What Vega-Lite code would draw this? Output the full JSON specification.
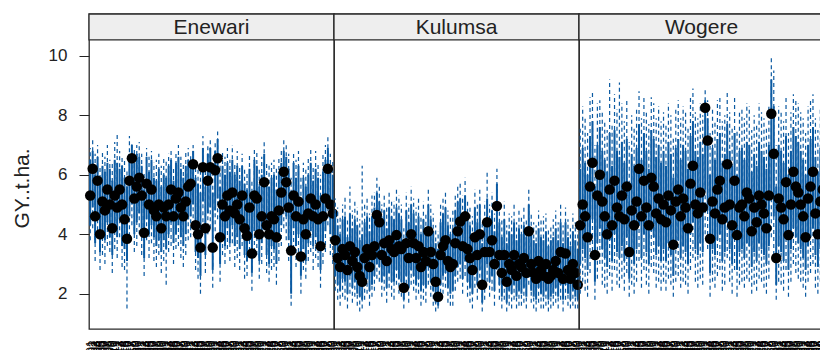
{
"$schema": "https://vega.github.io/schema/vega-lite/v6.json",
"padding": {"left": 11, "top": 12, "right": 0, "bottom": 0},
"background": "white",
"bounds": "flush",
"config": {"view": {"stroke": "#2a2a2a", "strokeWidth": 1.3}, "font": "Liberation Sans", "axisX": {"labelOverlap": false, "labelBound": false}},
"data": {"values": [
{"s":"Enewari","i":1,"m":5.3,"lo":4.3,"hi":6.5,"lo2":3.8,"hi2":6.9},
{"s":"Enewari","i":2,"m":6.2,"lo":4.9,"hi":6.8,"lo2":4.2,"hi2":7.2},
{"s":"Enewari","i":3,"m":4.6,"lo":3.7,"hi":6.0,"lo2":3.1,"hi2":6.7},
{"s":"Enewari","i":4,"m":5.8,"lo":4.7,"hi":6.6,"lo2":3.9,"hi2":7.0},
{"s":"Enewari","i":5,"m":4.0,"lo":3.4,"hi":5.7,"lo2":2.8,"hi2":6.3},
{"s":"Enewari","i":6,"m":5.1,"lo":4.1,"hi":6.3,"lo2":3.3,"hi2":6.8},
{"s":"Enewari","i":7,"m":4.8,"lo":3.8,"hi":6.1,"lo2":3.0,"hi2":6.6},
{"s":"Enewari","i":8,"m":5.5,"lo":4.4,"hi":6.4,"lo2":3.6,"hi2":7.0},
{"s":"Enewari","i":9,"m":5.0,"lo":3.9,"hi":6.2,"lo2":3.4,"hi2":6.5},
{"s":"Enewari","i":10,"m":4.2,"lo":3.3,"hi":5.8,"lo2":2.7,"hi2":6.4},
{"s":"Enewari","i":11,"m":5.3,"lo":4.2,"hi":6.5,"lo2":3.5,"hi2":7.1},
{"s":"Enewari","i":12,"m":4.9,"lo":3.9,"hi":6.4,"lo2":3.2,"hi2":7.35},
{"s":"Enewari","i":13,"m":5.5,"lo":4.5,"hi":6.2,"lo2":3.9,"hi2":6.8},
{"s":"Enewari","i":14,"m":5.0,"lo":3.6,"hi":6.3,"lo2":2.9,"hi2":6.6},
{"s":"Enewari","i":15,"m":4.5,"lo":3.5,"hi":5.9,"lo2":2.8,"hi2":6.5},
{"s":"Enewari","i":16,"m":3.85,"lo":3.1,"hi":5.6,"lo2":1.5,"hi2":6.2},
{"s":"Enewari","i":17,"m":5.8,"lo":4.6,"hi":6.7,"lo2":3.7,"hi2":7.3},
{"s":"Enewari","i":18,"m":6.55,"lo":5.0,"hi":7.0,"lo2":4.3,"hi2":7.1},
{"s":"Enewari","i":19,"m":5.2,"lo":4.0,"hi":6.4,"lo2":3.4,"hi2":6.9},
{"s":"Enewari","i":20,"m":5.6,"lo":4.4,"hi":6.7,"lo2":3.6,"hi2":7.0},
{"s":"Enewari","i":21,"m":5.9,"lo":4.7,"hi":6.6,"lo2":4.0,"hi2":7.1},
{"s":"Enewari","i":22,"m":5.3,"lo":4.1,"hi":6.3,"lo2":3.3,"hi2":6.7},
{"s":"Enewari","i":23,"m":4.05,"lo":3.2,"hi":5.5,"lo2":2.6,"hi2":6.1},
{"s":"Enewari","i":24,"m":5.7,"lo":4.5,"hi":6.6,"lo2":3.8,"hi2":6.9},
{"s":"Enewari","i":25,"m":5.0,"lo":4.0,"hi":6.1,"lo2":3.2,"hi2":6.6},
{"s":"Enewari","i":26,"m":5.5,"lo":4.3,"hi":6.5,"lo2":3.7,"hi2":6.8},
{"s":"Enewari","i":27,"m":4.8,"lo":3.9,"hi":5.9,"lo2":3.1,"hi2":6.4},
{"s":"Enewari","i":28,"m":4.6,"lo":3.6,"hi":5.8,"lo2":2.9,"hi2":6.5},
{"s":"Enewari","i":29,"m":5.0,"lo":3.8,"hi":6.2,"lo2":3.3,"hi2":6.7},
{"s":"Enewari","i":30,"m":4.2,"lo":3.4,"hi":5.6,"lo2":2.7,"hi2":6.3},
{"s":"Enewari","i":31,"m":4.9,"lo":3.8,"hi":6.0,"lo2":3.1,"hi2":6.6},
{"s":"Enewari","i":32,"m":4.6,"lo":3.5,"hi":5.9,"lo2":2.3,"hi2":6.5},
{"s":"Enewari","i":33,"m":5.0,"lo":4.0,"hi":6.3,"lo2":3.4,"hi2":6.7},
{"s":"Enewari","i":34,"m":5.5,"lo":4.4,"hi":6.5,"lo2":3.6,"hi2":6.9},
{"s":"Enewari","i":35,"m":4.6,"lo":3.7,"hi":5.8,"lo2":3.0,"hi2":6.2},
{"s":"Enewari","i":36,"m":5.2,"lo":4.0,"hi":6.4,"lo2":3.5,"hi2":6.7},
{"s":"Enewari","i":37,"m":5.4,"lo":4.3,"hi":6.6,"lo2":3.6,"hi2":7.0},
{"s":"Enewari","i":38,"m":4.9,"lo":3.9,"hi":6.2,"lo2":3.2,"hi2":6.6},
{"s":"Enewari","i":39,"m":4.6,"lo":3.6,"hi":5.9,"lo2":2.9,"hi2":6.4},
{"s":"Enewari","i":40,"m":5.1,"lo":4.0,"hi":6.3,"lo2":3.3,"hi2":6.8},
{"s":"Enewari","i":41,"m":5.6,"lo":4.5,"hi":6.5,"lo2":3.8,"hi2":6.9},
{"s":"Enewari","i":42,"m":5.7,"lo":4.6,"hi":6.4,"lo2":3.9,"hi2":6.7},
{"s":"Enewari","i":43,"m":6.35,"lo":5.0,"hi":6.8,"lo2":4.3,"hi2":7.0},
{"s":"Enewari","i":44,"m":4.3,"lo":3.4,"hi":5.9,"lo2":2.8,"hi2":6.5},
{"s":"Enewari","i":45,"m":4.0,"lo":3.2,"hi":5.7,"lo2":2.5,"hi2":6.3},
{"s":"Enewari","i":46,"m":3.55,"lo":2.6,"hi":5.4,"lo2":2.0,"hi2":6.1},
{"s":"Enewari","i":47,"m":6.25,"lo":5.1,"hi":6.9,"lo2":4.4,"hi2":7.3},
{"s":"Enewari","i":48,"m":4.2,"lo":3.3,"hi":5.6,"lo2":2.7,"hi2":6.2},
{"s":"Enewari","i":49,"m":5.8,"lo":4.7,"hi":6.7,"lo2":4.0,"hi2":7.0},
{"s":"Enewari","i":50,"m":6.25,"lo":4.9,"hi":6.9,"lo2":4.2,"hi2":7.2},
{"s":"Enewari","i":51,"m":3.55,"lo":2.8,"hi":5.4,"lo2":2.2,"hi2":6.0},
{"s":"Enewari","i":52,"m":6.15,"lo":4.8,"hi":6.8,"lo2":4.1,"hi2":7.1},
{"s":"Enewari","i":53,"m":6.55,"lo":5.2,"hi":7.2,"lo2":4.5,"hi2":7.45},
{"s":"Enewari","i":54,"m":3.9,"lo":3.0,"hi":5.6,"lo2":2.4,"hi2":6.4},
{"s":"Enewari","i":55,"m":5.0,"lo":4.0,"hi":6.3,"lo2":3.3,"hi2":6.8},
{"s":"Enewari","i":56,"m":4.6,"lo":3.6,"hi":6.0,"lo2":3.0,"hi2":6.6},
{"s":"Enewari","i":57,"m":5.3,"lo":4.2,"hi":6.4,"lo2":3.5,"hi2":6.9},
{"s":"Enewari","i":58,"m":4.8,"lo":3.7,"hi":6.1,"lo2":3.1,"hi2":6.5},
{"s":"Enewari","i":59,"m":5.4,"lo":4.3,"hi":6.5,"lo2":3.7,"hi2":7.0},
{"s":"Enewari","i":60,"m":4.7,"lo":3.6,"hi":6.0,"lo2":2.9,"hi2":6.4},
{"s":"Enewari","i":61,"m":5.0,"lo":3.9,"hi":6.3,"lo2":3.2,"hi2":6.8},
{"s":"Enewari","i":62,"m":4.5,"lo":3.5,"hi":5.8,"lo2":2.8,"hi2":6.3},
{"s":"Enewari","i":63,"m":5.3,"lo":4.2,"hi":6.3,"lo2":3.6,"hi2":6.7},
{"s":"Enewari","i":64,"m":4.2,"lo":3.3,"hi":5.7,"lo2":2.5,"hi2":6.2},
{"s":"Enewari","i":65,"m":3.95,"lo":3.1,"hi":5.5,"lo2":2.6,"hi2":6.1},
{"s":"Enewari","i":66,"m":4.9,"lo":3.8,"hi":6.2,"lo2":3.2,"hi2":6.7},
{"s":"Enewari","i":67,"m":3.35,"lo":2.7,"hi":5.2,"lo2":2.1,"hi2":5.8},
{"s":"Enewari","i":68,"m":5.3,"lo":4.1,"hi":6.5,"lo2":3.4,"hi2":6.9},
{"s":"Enewari","i":69,"m":5.2,"lo":4.0,"hi":6.3,"lo2":3.3,"hi2":6.8},
{"s":"Enewari","i":70,"m":4.0,"lo":3.1,"hi":5.6,"lo2":2.5,"hi2":6.2},
{"s":"Enewari","i":71,"m":4.6,"lo":3.7,"hi":6.0,"lo2":3.0,"hi2":6.6},
{"s":"Enewari","i":72,"m":5.75,"lo":4.6,"hi":6.7,"lo2":3.9,"hi2":7.1},
{"s":"Enewari","i":73,"m":4.3,"lo":3.3,"hi":5.8,"lo2":2.7,"hi2":6.4},
{"s":"Enewari","i":74,"m":4.0,"lo":3.0,"hi":5.6,"lo2":2.4,"hi2":6.3},
{"s":"Enewari","i":75,"m":4.6,"lo":3.6,"hi":5.9,"lo2":2.8,"hi2":6.4},
{"s":"Enewari","i":76,"m":4.5,"lo":3.5,"hi":6.0,"lo2":2.9,"hi2":6.5},
{"s":"Enewari","i":77,"m":3.9,"lo":3.0,"hi":5.5,"lo2":2.3,"hi2":6.2},
{"s":"Enewari","i":78,"m":4.8,"lo":3.8,"hi":6.1,"lo2":3.1,"hi2":6.6},
{"s":"Enewari","i":79,"m":5.4,"lo":4.3,"hi":6.4,"lo2":3.6,"hi2":6.9},
{"s":"Enewari","i":80,"m":6.1,"lo":4.9,"hi":6.8,"lo2":4.2,"hi2":7.2},
{"s":"Enewari","i":81,"m":5.75,"lo":4.6,"hi":6.6,"lo2":3.8,"hi2":7.0},
{"s":"Enewari","i":82,"m":4.9,"lo":3.8,"hi":6.2,"lo2":3.1,"hi2":6.7},
{"s":"Enewari","i":83,"m":3.45,"lo":2.0,"hi":5.3,"lo2":1.6,"hi2":5.9},
{"s":"Enewari","i":84,"m":5.3,"lo":4.2,"hi":6.4,"lo2":3.5,"hi2":6.8},
{"s":"Enewari","i":85,"m":4.6,"lo":3.6,"hi":5.9,"lo2":2.9,"hi2":6.5},
{"s":"Enewari","i":86,"m":5.1,"lo":4.0,"hi":6.3,"lo2":3.4,"hi2":6.8},
{"s":"Enewari","i":87,"m":3.25,"lo":2.6,"hi":5.1,"lo2":2.0,"hi2":5.9},
{"s":"Enewari","i":88,"m":4.5,"lo":3.5,"hi":5.9,"lo2":2.8,"hi2":6.4},
{"s":"Enewari","i":89,"m":4.0,"lo":3.1,"hi":5.6,"lo2":2.5,"hi2":6.2},
{"s":"Enewari","i":90,"m":4.7,"lo":3.7,"hi":6.0,"lo2":3.1,"hi2":6.6},
{"s":"Enewari","i":91,"m":5.2,"lo":4.1,"hi":6.4,"lo2":3.4,"hi2":6.9},
{"s":"Enewari","i":92,"m":4.6,"lo":3.6,"hi":5.8,"lo2":2.8,"hi2":6.3},
{"s":"Enewari","i":93,"m":5.0,"lo":3.9,"hi":6.2,"lo2":3.2,"hi2":6.8},
{"s":"Enewari","i":94,"m":4.5,"lo":3.5,"hi":5.9,"lo2":2.9,"hi2":6.4},
{"s":"Enewari","i":95,"m":3.6,"lo":2.8,"hi":5.3,"lo2":2.2,"hi2":6.0},
{"s":"Enewari","i":96,"m":4.6,"lo":3.7,"hi":6.1,"lo2":3.0,"hi2":6.7},
{"s":"Enewari","i":97,"m":5.2,"lo":4.1,"hi":6.5,"lo2":3.4,"hi2":7.0},
{"s":"Enewari","i":98,"m":6.2,"lo":5.0,"hi":6.9,"lo2":4.3,"hi2":7.3},
{"s":"Enewari","i":99,"m":5.0,"lo":4.0,"hi":6.2,"lo2":3.3,"hi2":6.7},
{"s":"Enewari","i":100,"m":4.7,"lo":3.7,"hi":6.0,"lo2":3.0,"hi2":6.5},
{"s":"Kulumsa","i":1,"m":3.8,"lo":2.6,"hi":4.7,"lo2":2.1,"hi2":5.2},
{"s":"Kulumsa","i":2,"m":3.2,"lo":2.3,"hi":4.3,"lo2":1.8,"hi2":4.9},
{"s":"Kulumsa","i":3,"m":2.9,"lo":2.1,"hi":4.0,"lo2":1.6,"hi2":4.6},
{"s":"Kulumsa","i":4,"m":3.5,"lo":2.5,"hi":4.5,"lo2":1.9,"hi2":5.0},
{"s":"Kulumsa","i":5,"m":3.3,"lo":2.4,"hi":4.6,"lo2":1.8,"hi2":5.3},
{"s":"Kulumsa","i":6,"m":2.8,"lo":2.0,"hi":3.9,"lo2":1.5,"hi2":4.5},
{"s":"Kulumsa","i":7,"m":3.6,"lo":2.6,"hi":4.7,"lo2":2.0,"hi2":5.6},
{"s":"Kulumsa","i":8,"m":3.1,"lo":2.2,"hi":4.2,"lo2":1.7,"hi2":4.8},
{"s":"Kulumsa","i":9,"m":3.4,"lo":2.4,"hi":4.5,"lo2":1.9,"hi2":5.1},
{"s":"Kulumsa","i":10,"m":2.9,"lo":2.0,"hi":4.3,"lo2":1.6,"hi2":4.9},
{"s":"Kulumsa","i":11,"m":2.6,"lo":1.9,"hi":3.8,"lo2":1.4,"hi2":4.5},
{"s":"Kulumsa","i":12,"m":2.4,"lo":1.8,"hi":4.0,"lo2":1.5,"hi2":6.3},
{"s":"Kulumsa","i":13,"m":3.2,"lo":2.3,"hi":4.4,"lo2":1.8,"hi2":5.0},
{"s":"Kulumsa","i":14,"m":3.5,"lo":2.5,"hi":4.6,"lo2":2.0,"hi2":5.2},
{"s":"Kulumsa","i":15,"m":2.9,"lo":2.1,"hi":4.1,"lo2":1.6,"hi2":4.7},
{"s":"Kulumsa","i":16,"m":3.3,"lo":2.3,"hi":4.6,"lo2":1.9,"hi2":5.3},
{"s":"Kulumsa","i":17,"m":3.6,"lo":2.6,"hi":4.9,"lo2":2.1,"hi2":5.4},
{"s":"Kulumsa","i":18,"m":4.65,"lo":3.0,"hi":5.4,"lo2":2.5,"hi2":5.9},
{"s":"Kulumsa","i":19,"m":4.4,"lo":2.9,"hi":5.1,"lo2":2.4,"hi2":5.7},
{"s":"Kulumsa","i":20,"m":3.3,"lo":2.4,"hi":4.4,"lo2":1.9,"hi2":5.0},
{"s":"Kulumsa","i":21,"m":3.7,"lo":2.6,"hi":4.8,"lo2":2.1,"hi2":5.3},
{"s":"Kulumsa","i":22,"m":3.1,"lo":2.2,"hi":4.2,"lo2":1.7,"hi2":4.9},
{"s":"Kulumsa","i":23,"m":3.8,"lo":2.7,"hi":4.9,"lo2":2.2,"hi2":5.4},
{"s":"Kulumsa","i":24,"m":3.5,"lo":2.4,"hi":4.6,"lo2":1.9,"hi2":5.1},
{"s":"Kulumsa","i":25,"m":3.4,"lo":2.4,"hi":4.5,"lo2":1.8,"hi2":5.1},
{"s":"Kulumsa","i":26,"m":3.97,"lo":2.8,"hi":4.9,"lo2":2.3,"hi2":5.5},
{"s":"Kulumsa","i":27,"m":3.6,"lo":2.5,"hi":4.7,"lo2":2.0,"hi2":5.3},
{"s":"Kulumsa","i":28,"m":3.5,"lo":2.4,"hi":4.5,"lo2":1.9,"hi2":5.0},
{"s":"Kulumsa","i":29,"m":2.2,"lo":1.8,"hi":3.6,"lo2":1.5,"hi2":4.2},
{"s":"Kulumsa","i":30,"m":3.7,"lo":2.6,"hi":4.8,"lo2":2.1,"hi2":5.4},
{"s":"Kulumsa","i":31,"m":3.2,"lo":2.2,"hi":4.4,"lo2":1.7,"hi2":5.0},
{"s":"Kulumsa","i":32,"m":4.0,"lo":2.8,"hi":5.0,"lo2":2.3,"hi2":5.6},
{"s":"Kulumsa","i":33,"m":3.7,"lo":2.6,"hi":4.7,"lo2":2.1,"hi2":5.2},
{"s":"Kulumsa","i":34,"m":3.2,"lo":2.3,"hi":4.3,"lo2":1.8,"hi2":4.9},
{"s":"Kulumsa","i":35,"m":3.6,"lo":2.5,"hi":4.6,"lo2":2.0,"hi2":5.2},
{"s":"Kulumsa","i":36,"m":2.9,"lo":2.1,"hi":4.0,"lo2":1.6,"hi2":4.6},
{"s":"Kulumsa","i":37,"m":3.4,"lo":2.3,"hi":4.5,"lo2":1.8,"hi2":5.1},
{"s":"Kulumsa","i":38,"m":3.1,"lo":2.2,"hi":4.2,"lo2":1.7,"hi2":4.7},
{"s":"Kulumsa","i":39,"m":4.1,"lo":2.9,"hi":5.0,"lo2":2.3,"hi2":5.5},
{"s":"Kulumsa","i":40,"m":3.4,"lo":2.4,"hi":4.5,"lo2":1.9,"hi2":5.0},
{"s":"Kulumsa","i":41,"m":3.0,"lo":2.1,"hi":4.1,"lo2":1.6,"hi2":4.7},
{"s":"Kulumsa","i":42,"m":2.4,"lo":1.7,"hi":3.7,"lo2":1.4,"hi2":4.3},
{"s":"Kulumsa","i":43,"m":1.9,"lo":1.6,"hi":3.5,"lo2":1.5,"hi2":4.1},
{"s":"Kulumsa","i":44,"m":3.3,"lo":2.3,"hi":4.4,"lo2":1.8,"hi2":5.0},
{"s":"Kulumsa","i":45,"m":3.6,"lo":2.6,"hi":4.7,"lo2":2.0,"hi2":5.2},
{"s":"Kulumsa","i":46,"m":3.8,"lo":2.7,"hi":4.9,"lo2":2.2,"hi2":5.4},
{"s":"Kulumsa","i":47,"m":3.1,"lo":2.2,"hi":4.3,"lo2":1.7,"hi2":4.8},
{"s":"Kulumsa","i":48,"m":2.9,"lo":2.0,"hi":4.0,"lo2":1.6,"hi2":4.6},
{"s":"Kulumsa","i":49,"m":3.0,"lo":2.1,"hi":4.2,"lo2":1.6,"hi2":4.8},
{"s":"Kulumsa","i":50,"m":3.7,"lo":2.6,"hi":4.8,"lo2":2.1,"hi2":5.3},
{"s":"Kulumsa","i":51,"m":4.1,"lo":2.9,"hi":5.1,"lo2":2.4,"hi2":5.7},
{"s":"Kulumsa","i":52,"m":4.43,"lo":3.0,"hi":5.2,"lo2":2.5,"hi2":5.8},
{"s":"Kulumsa","i":53,"m":3.6,"lo":2.5,"hi":4.7,"lo2":2.0,"hi2":5.3},
{"s":"Kulumsa","i":54,"m":4.6,"lo":3.1,"hi":5.3,"lo2":2.6,"hi2":5.9},
{"s":"Kulumsa","i":55,"m":3.5,"lo":2.4,"hi":4.6,"lo2":1.9,"hi2":5.1},
{"s":"Kulumsa","i":56,"m":3.2,"lo":2.2,"hi":4.3,"lo2":1.7,"hi2":4.9},
{"s":"Kulumsa","i":57,"m":2.8,"lo":2.0,"hi":4.0,"lo2":1.5,"hi2":4.6},
{"s":"Kulumsa","i":58,"m":3.9,"lo":2.7,"hi":4.9,"lo2":2.2,"hi2":5.5},
{"s":"Kulumsa","i":59,"m":3.3,"lo":2.3,"hi":4.4,"lo2":1.8,"hi2":5.0},
{"s":"Kulumsa","i":60,"m":4.0,"lo":2.8,"hi":5.0,"lo2":2.3,"hi2":5.5},
{"s":"Kulumsa","i":61,"m":2.3,"lo":1.7,"hi":3.7,"lo2":1.4,"hi2":4.4},
{"s":"Kulumsa","i":62,"m":3.4,"lo":2.3,"hi":4.5,"lo2":1.8,"hi2":5.1},
{"s":"Kulumsa","i":63,"m":4.4,"lo":3.0,"hi":5.2,"lo2":2.4,"hi2":6.1},
{"s":"Kulumsa","i":64,"m":3.4,"lo":2.4,"hi":4.5,"lo2":1.9,"hi2":5.0},
{"s":"Kulumsa","i":65,"m":3.8,"lo":2.6,"hi":4.8,"lo2":2.1,"hi2":5.4},
{"s":"Kulumsa","i":66,"m":3.0,"lo":2.1,"hi":4.1,"lo2":1.6,"hi2":4.7},
{"s":"Kulumsa","i":67,"m":4.95,"lo":3.3,"hi":5.7,"lo2":2.8,"hi2":6.2},
{"s":"Kulumsa","i":68,"m":3.3,"lo":2.3,"hi":4.4,"lo2":1.8,"hi2":5.0},
{"s":"Kulumsa","i":69,"m":2.7,"lo":1.9,"hi":3.9,"lo2":1.5,"hi2":4.5},
{"s":"Kulumsa","i":70,"m":3.3,"lo":2.3,"hi":4.5,"lo2":1.8,"hi2":5.1},
{"s":"Kulumsa","i":71,"m":2.4,"lo":1.7,"hi":3.7,"lo2":1.4,"hi2":4.3},
{"s":"Kulumsa","i":72,"m":3.0,"lo":2.1,"hi":4.1,"lo2":1.6,"hi2":4.7},
{"s":"Kulumsa","i":73,"m":2.8,"lo":2.0,"hi":4.0,"lo2":1.5,"hi2":4.6},
{"s":"Kulumsa","i":74,"m":3.3,"lo":2.3,"hi":4.4,"lo2":1.8,"hi2":5.0},
{"s":"Kulumsa","i":75,"m":2.6,"lo":1.9,"hi":3.8,"lo2":1.5,"hi2":4.4},
{"s":"Kulumsa","i":76,"m":3.0,"lo":2.1,"hi":4.2,"lo2":1.6,"hi2":4.8},
{"s":"Kulumsa","i":77,"m":2.9,"lo":2.0,"hi":4.0,"lo2":1.6,"hi2":4.6},
{"s":"Kulumsa","i":78,"m":3.2,"lo":2.2,"hi":4.3,"lo2":1.7,"hi2":4.9},
{"s":"Kulumsa","i":79,"m":2.7,"lo":1.9,"hi":3.9,"lo2":1.5,"hi2":4.5},
{"s":"Kulumsa","i":80,"m":4.1,"lo":2.8,"hi":5.0,"lo2":2.3,"hi2":5.5},
{"s":"Kulumsa","i":81,"m":3.0,"lo":2.1,"hi":4.1,"lo2":1.7,"hi2":4.7},
{"s":"Kulumsa","i":82,"m":2.7,"lo":1.9,"hi":3.8,"lo2":1.5,"hi2":4.4},
{"s":"Kulumsa","i":83,"m":2.5,"lo":1.8,"hi":3.7,"lo2":1.4,"hi2":4.3},
{"s":"Kulumsa","i":84,"m":3.1,"lo":2.2,"hi":4.2,"lo2":1.7,"hi2":4.8},
{"s":"Kulumsa","i":85,"m":2.8,"lo":2.0,"hi":3.9,"lo2":1.5,"hi2":4.5},
{"s":"Kulumsa","i":86,"m":2.6,"lo":1.9,"hi":3.8,"lo2":1.5,"hi2":4.6},
{"s":"Kulumsa","i":87,"m":3.0,"lo":2.1,"hi":4.1,"lo2":1.6,"hi2":4.7},
{"s":"Kulumsa","i":88,"m":2.5,"lo":1.8,"hi":3.6,"lo2":1.4,"hi2":4.2},
{"s":"Kulumsa","i":89,"m":2.6,"lo":1.9,"hi":3.8,"lo2":1.5,"hi2":4.3},
{"s":"Kulumsa","i":90,"m":2.8,"lo":2.0,"hi":3.9,"lo2":1.6,"hi2":4.5},
{"s":"Kulumsa","i":91,"m":3.1,"lo":2.2,"hi":4.2,"lo2":1.7,"hi2":4.8},
{"s":"Kulumsa","i":92,"m":2.7,"lo":1.9,"hi":3.8,"lo2":1.5,"hi2":4.4},
{"s":"Kulumsa","i":93,"m":3.4,"lo":2.3,"hi":4.4,"lo2":1.8,"hi2":5.0},
{"s":"Kulumsa","i":94,"m":2.5,"lo":1.8,"hi":3.7,"lo2":1.4,"hi2":4.3},
{"s":"Kulumsa","i":95,"m":3.35,"lo":2.3,"hi":4.4,"lo2":1.8,"hi2":4.9},
{"s":"Kulumsa","i":96,"m":2.8,"lo":2.0,"hi":3.9,"lo2":1.6,"hi2":4.5},
{"s":"Kulumsa","i":97,"m":2.5,"lo":1.8,"hi":3.6,"lo2":1.5,"hi2":4.2},
{"s":"Kulumsa","i":98,"m":3.0,"lo":2.1,"hi":4.1,"lo2":1.6,"hi2":4.7},
{"s":"Kulumsa","i":99,"m":2.7,"lo":1.9,"hi":3.8,"lo2":1.5,"hi2":4.4},
{"s":"Kulumsa","i":100,"m":2.3,"lo":1.8,"hi":3.5,"lo2":1.5,"hi2":4.1},
{"s":"Wogere","i":1,"m":4.3,"lo":3.0,"hi":6.2,"lo2":2.0,"hi2":7.6},
{"s":"Wogere","i":2,"m":5.0,"lo":3.5,"hi":6.9,"lo2":2.4,"hi2":8.3},
{"s":"Wogere","i":3,"m":4.6,"lo":3.2,"hi":6.4,"lo2":2.1,"hi2":7.9},
{"s":"Wogere","i":4,"m":3.9,"lo":2.8,"hi":6.0,"lo2":1.9,"hi2":7.4},
{"s":"Wogere","i":5,"m":5.6,"lo":3.9,"hi":7.3,"lo2":2.7,"hi2":8.6},
{"s":"Wogere","i":6,"m":6.4,"lo":4.5,"hi":7.8,"lo2":3.2,"hi2":8.8},
{"s":"Wogere","i":7,"m":3.3,"lo":2.4,"hi":5.6,"lo2":1.8,"hi2":7.0},
{"s":"Wogere","i":8,"m":5.3,"lo":3.7,"hi":7.0,"lo2":2.5,"hi2":8.4},
{"s":"Wogere","i":9,"m":6.0,"lo":4.2,"hi":7.6,"lo2":3.0,"hi2":8.5},
{"s":"Wogere","i":10,"m":5.1,"lo":3.5,"hi":6.8,"lo2":2.3,"hi2":8.1},
{"s":"Wogere","i":11,"m":4.6,"lo":3.2,"hi":6.5,"lo2":2.2,"hi2":7.8},
{"s":"Wogere","i":12,"m":4.0,"lo":2.9,"hi":6.1,"lo2":2.0,"hi2":7.5},
{"s":"Wogere","i":13,"m":5.5,"lo":3.8,"hi":7.4,"lo2":2.6,"hi2":9.2},
{"s":"Wogere","i":14,"m":4.3,"lo":3.1,"hi":6.3,"lo2":2.1,"hi2":7.7},
{"s":"Wogere","i":15,"m":5.8,"lo":4.0,"hi":7.5,"lo2":2.8,"hi2":8.7},
{"s":"Wogere","i":16,"m":4.9,"lo":3.4,"hi":6.8,"lo2":2.3,"hi2":8.2},
{"s":"Wogere","i":17,"m":4.6,"lo":3.2,"hi":6.6,"lo2":2.2,"hi2":9.1},
{"s":"Wogere","i":18,"m":5.3,"lo":3.6,"hi":7.1,"lo2":2.5,"hi2":8.4},
{"s":"Wogere","i":19,"m":4.5,"lo":3.1,"hi":6.4,"lo2":2.1,"hi2":7.8},
{"s":"Wogere","i":20,"m":5.6,"lo":3.9,"hi":7.2,"lo2":2.7,"hi2":8.5},
{"s":"Wogere","i":21,"m":3.4,"lo":2.5,"hi":5.7,"lo2":1.9,"hi2":7.1},
{"s":"Wogere","i":22,"m":4.8,"lo":3.3,"hi":6.7,"lo2":2.3,"hi2":8.0},
{"s":"Wogere","i":23,"m":4.3,"lo":3.0,"hi":6.3,"lo2":2.0,"hi2":7.6},
{"s":"Wogere","i":24,"m":5.1,"lo":3.5,"hi":6.9,"lo2":2.4,"hi2":8.2},
{"s":"Wogere","i":25,"m":6.2,"lo":4.3,"hi":7.7,"lo2":3.1,"hi2":8.8},
{"s":"Wogere","i":26,"m":4.6,"lo":3.2,"hi":6.5,"lo2":2.2,"hi2":7.9},
{"s":"Wogere","i":27,"m":5.8,"lo":4.0,"hi":7.4,"lo2":2.8,"hi2":8.6},
{"s":"Wogere","i":28,"m":4.9,"lo":3.4,"hi":6.8,"lo2":2.3,"hi2":8.1},
{"s":"Wogere","i":29,"m":4.3,"lo":3.0,"hi":6.2,"lo2":2.0,"hi2":7.7},
{"s":"Wogere","i":30,"m":5.9,"lo":4.1,"hi":7.5,"lo2":2.9,"hi2":8.6},
{"s":"Wogere","i":31,"m":5.6,"lo":3.9,"hi":7.2,"lo2":2.7,"hi2":8.4},
{"s":"Wogere","i":32,"m":4.7,"lo":3.3,"hi":6.6,"lo2":2.2,"hi2":7.9},
{"s":"Wogere","i":33,"m":5.2,"lo":3.6,"hi":7.0,"lo2":2.4,"hi2":8.3},
{"s":"Wogere","i":34,"m":4.5,"lo":3.1,"hi":6.4,"lo2":2.1,"hi2":7.8},
{"s":"Wogere","i":35,"m":5.0,"lo":3.5,"hi":6.8,"lo2":2.4,"hi2":8.1},
{"s":"Wogere","i":36,"m":4.4,"lo":3.1,"hi":6.3,"lo2":2.1,"hi2":7.7},
{"s":"Wogere","i":37,"m":5.3,"lo":3.7,"hi":7.1,"lo2":2.5,"hi2":8.4},
{"s":"Wogere","i":38,"m":4.8,"lo":3.3,"hi":6.7,"lo2":2.3,"hi2":8.0},
{"s":"Wogere","i":39,"m":3.65,"lo":2.6,"hi":5.9,"lo2":1.9,"hi2":7.3},
{"s":"Wogere","i":40,"m":5.1,"lo":3.5,"hi":6.9,"lo2":2.4,"hi2":8.2},
{"s":"Wogere","i":41,"m":5.5,"lo":3.8,"hi":7.2,"lo2":2.6,"hi2":8.5},
{"s":"Wogere","i":42,"m":4.6,"lo":3.2,"hi":6.5,"lo2":2.2,"hi2":7.9},
{"s":"Wogere","i":43,"m":5.2,"lo":3.6,"hi":7.0,"lo2":2.4,"hi2":8.3},
{"s":"Wogere","i":44,"m":4.9,"lo":3.4,"hi":6.8,"lo2":2.3,"hi2":8.1},
{"s":"Wogere","i":45,"m":4.2,"lo":3.0,"hi":6.2,"lo2":2.0,"hi2":7.6},
{"s":"Wogere","i":46,"m":5.7,"lo":4.0,"hi":7.3,"lo2":2.8,"hi2":8.6},
{"s":"Wogere","i":47,"m":6.3,"lo":4.4,"hi":7.8,"lo2":3.2,"hi2":8.9},
{"s":"Wogere","i":48,"m":5.0,"lo":3.5,"hi":6.8,"lo2":2.4,"hi2":8.1},
{"s":"Wogere","i":49,"m":4.7,"lo":3.3,"hi":6.6,"lo2":2.2,"hi2":7.9},
{"s":"Wogere","i":50,"m":5.4,"lo":3.7,"hi":7.1,"lo2":2.5,"hi2":8.4},
{"s":"Wogere","i":51,"m":4.9,"lo":3.4,"hi":6.7,"lo2":2.3,"hi2":8.0},
{"s":"Wogere","i":52,"m":8.25,"lo":5.5,"hi":8.5,"lo2":4.0,"hi2":8.9},
{"s":"Wogere","i":53,"m":7.15,"lo":4.8,"hi":7.9,"lo2":3.5,"hi2":8.5},
{"s":"Wogere","i":54,"m":3.85,"lo":2.7,"hi":6.0,"lo2":1.9,"hi2":7.4},
{"s":"Wogere","i":55,"m":5.1,"lo":3.5,"hi":6.9,"lo2":2.4,"hi2":8.2},
{"s":"Wogere","i":56,"m":4.7,"lo":3.3,"hi":6.5,"lo2":2.2,"hi2":7.8},
{"s":"Wogere","i":57,"m":5.5,"lo":3.8,"hi":7.2,"lo2":2.6,"hi2":8.5},
{"s":"Wogere","i":58,"m":5.8,"lo":4.0,"hi":7.4,"lo2":2.8,"hi2":8.6},
{"s":"Wogere","i":59,"m":4.5,"lo":3.1,"hi":6.4,"lo2":2.1,"hi2":7.8},
{"s":"Wogere","i":60,"m":4.9,"lo":3.4,"hi":6.7,"lo2":2.3,"hi2":8.0},
{"s":"Wogere","i":61,"m":6.35,"lo":4.4,"hi":7.7,"lo2":3.2,"hi2":8.8},
{"s":"Wogere","i":62,"m":5.0,"lo":3.5,"hi":6.8,"lo2":2.4,"hi2":8.1},
{"s":"Wogere","i":63,"m":4.3,"lo":3.0,"hi":6.3,"lo2":2.0,"hi2":7.6},
{"s":"Wogere","i":64,"m":5.8,"lo":4.0,"hi":7.4,"lo2":2.8,"hi2":8.6},
{"s":"Wogere","i":65,"m":3.97,"lo":2.8,"hi":6.0,"lo2":1.9,"hi2":7.5},
{"s":"Wogere","i":66,"m":4.9,"lo":3.4,"hi":6.8,"lo2":2.3,"hi2":8.1},
{"s":"Wogere","i":67,"m":5.0,"lo":3.5,"hi":6.9,"lo2":2.4,"hi2":8.2},
{"s":"Wogere","i":68,"m":4.6,"lo":3.2,"hi":6.5,"lo2":2.2,"hi2":7.9},
{"s":"Wogere","i":69,"m":5.4,"lo":3.7,"hi":7.1,"lo2":2.5,"hi2":8.4},
{"s":"Wogere","i":70,"m":5.2,"lo":3.6,"hi":7.0,"lo2":2.4,"hi2":8.3},
{"s":"Wogere","i":71,"m":4.1,"lo":2.9,"hi":6.1,"lo2":2.0,"hi2":7.5},
{"s":"Wogere","i":72,"m":4.9,"lo":3.4,"hi":6.7,"lo2":2.3,"hi2":8.0},
{"s":"Wogere","i":73,"m":4.4,"lo":3.1,"hi":6.3,"lo2":2.1,"hi2":7.7},
{"s":"Wogere","i":74,"m":5.3,"lo":3.7,"hi":7.1,"lo2":2.5,"hi2":8.4},
{"s":"Wogere","i":75,"m":5.0,"lo":3.5,"hi":6.8,"lo2":2.4,"hi2":8.1},
{"s":"Wogere","i":76,"m":4.7,"lo":3.3,"hi":6.6,"lo2":2.2,"hi2":7.9},
{"s":"Wogere","i":77,"m":4.2,"lo":3.0,"hi":6.2,"lo2":2.0,"hi2":7.6},
{"s":"Wogere","i":78,"m":5.3,"lo":3.6,"hi":7.0,"lo2":2.5,"hi2":8.3},
{"s":"Wogere","i":79,"m":8.05,"lo":5.3,"hi":9.2,"lo2":3.9,"hi2":9.97},
{"s":"Wogere","i":80,"m":6.7,"lo":4.6,"hi":8.3,"lo2":3.3,"hi2":9.5},
{"s":"Wogere","i":81,"m":3.2,"lo":2.3,"hi":5.6,"lo2":1.8,"hi2":7.0},
{"s":"Wogere","i":82,"m":5.2,"lo":3.6,"hi":7.0,"lo2":2.4,"hi2":8.3},
{"s":"Wogere","i":83,"m":4.9,"lo":3.4,"hi":6.8,"lo2":2.3,"hi2":8.1},
{"s":"Wogere","i":84,"m":4.5,"lo":3.1,"hi":6.4,"lo2":2.1,"hi2":7.8},
{"s":"Wogere","i":85,"m":5.75,"lo":4.0,"hi":7.3,"lo2":2.8,"hi2":8.6},
{"s":"Wogere","i":86,"m":3.97,"lo":2.8,"hi":6.0,"lo2":1.9,"hi2":7.4},
{"s":"Wogere","i":87,"m":5.0,"lo":3.5,"hi":6.8,"lo2":2.4,"hi2":8.1},
{"s":"Wogere","i":88,"m":6.1,"lo":4.2,"hi":7.6,"lo2":3.0,"hi2":8.7},
{"s":"Wogere","i":89,"m":5.6,"lo":3.9,"hi":7.3,"lo2":2.7,"hi2":8.5},
{"s":"Wogere","i":90,"m":5.4,"lo":3.7,"hi":7.1,"lo2":2.5,"hi2":8.4},
{"s":"Wogere","i":91,"m":5.0,"lo":3.5,"hi":6.8,"lo2":2.4,"hi2":8.1},
{"s":"Wogere","i":92,"m":4.6,"lo":3.2,"hi":6.5,"lo2":2.2,"hi2":7.9},
{"s":"Wogere","i":93,"m":3.9,"lo":2.8,"hi":6.0,"lo2":1.9,"hi2":7.4},
{"s":"Wogere","i":94,"m":5.2,"lo":3.6,"hi":7.0,"lo2":2.4,"hi2":8.3},
{"s":"Wogere","i":95,"m":5.6,"lo":3.9,"hi":7.2,"lo2":2.7,"hi2":8.5},
{"s":"Wogere","i":96,"m":6.1,"lo":4.2,"hi":7.6,"lo2":3.0,"hi2":8.7},
{"s":"Wogere","i":97,"m":4.7,"lo":3.3,"hi":6.6,"lo2":2.2,"hi2":7.9},
{"s":"Wogere","i":98,"m":4.0,"lo":2.9,"hi":6.1,"lo2":2.0,"hi2":7.5},
{"s":"Wogere","i":99,"m":5.1,"lo":3.5,"hi":6.9,"lo2":2.4,"hi2":8.2},
{"s":"Wogere","i":100,"m":5.5,"lo":3.8,"hi":7.2,"lo2":2.6,"hi2":8.5}
]},
"facet": {"column": {"field": "s", "type": "nominal", "header": null}},
"spacing": 0,
"spec": {
"width": 245,
"height": 315,
"layer": [
{"mark": {"type": "rule", "color": "#0b5aa2", "strokeWidth": 1.2, "strokeDash": [4, 3]},
 "encoding": {
  "x": {"field": "i", "type": "quantitative", "scale": {"domain": [0.5, 100.5], "nice": false, "zero": false},
   "axis": {"values": [1,2,3,4,5,6,7,8,9,10,11,12,13,14,15,16,17,18,19,20,21,22,23,24,25,26,27,28,29,30,31,32,33,34,35,36,37,38,39,40,41,42,43,44,45,46,47,48,49,50,51,52,53,54,55,56,57,58,59,60,61,62,63,64,65,66,67,68,69,70,71,72,73,74,75,76,77,78,79,80,81,82,83,84,85,86,87,88,89,90,91,92,93,94,95,96,97,98,99,100],
    "tickCount": 200,
    "labelExpr": "'ETBW ' + (8900 + datum.value)", "labelAngle": -90, "labelFontSize": 12, "labelColor": "#000",
    "labelOverlap": false, "labelBound": false, "labelFlush": false, "ticks": false, "domain": false, "grid": false,
    "title": null, "labelPadding": 11}},
  "y": {"field": "lo2", "type": "quantitative", "scale": {"domain": [0.815, 11.4], "nice": false, "zero": false},
   "axis": {"values": [2, 4, 6, 8, 10], "domain": false, "grid": false, "tickSize": 10, "tickColor": "#222",
    "labelFontSize": 17, "labelPadding": 12, "labelColor": "#222", "title": "GY..t.ha.", "titleFontSize": 21,
    "titleFontWeight": "normal", "titleColor": "#222", "titleX": -67, "titleY": 174, "titleBaseline": "middle"}},
  "y2": {"field": "hi2"}
 }},
{"mark": {"type": "rule", "color": "#0b5aa2", "strokeWidth": 2},
 "encoding": {
  "x": {"field": "i", "type": "quantitative"},
  "y": {"field": "lo", "type": "quantitative"},
  "y2": {"field": "hi"}
 }},
{"mark": {"type": "point", "filled": true, "color": "#000", "size": 110, "opacity": 1},
 "encoding": {
  "x": {"field": "i", "type": "quantitative"},
  "y": {"field": "m", "type": "quantitative"}
 }},
{"transform": [{"filter": "datum.i == 1"}],
 "mark": {"type": "rect", "fill": "#eeeeee", "stroke": "#2a2a2a", "strokeWidth": 1.3},
 "encoding": {
  "x": {"datum": 0.5, "type": "quantitative"},
  "x2": {"datum": 100.5},
  "y": {"datum": 10.53, "type": "quantitative"},
  "y2": {"datum": 11.4}
 }},
{"transform": [{"filter": "datum.i == 1"}],
 "mark": {"type": "text", "fontSize": 21, "color": "#222", "baseline": "middle", "align": "center"},
 "encoding": {
  "x": {"datum": 50.5, "type": "quantitative"},
  "y": {"datum": 10.94, "type": "quantitative"},
  "text": {"field": "s"}
 }}
]}
}
